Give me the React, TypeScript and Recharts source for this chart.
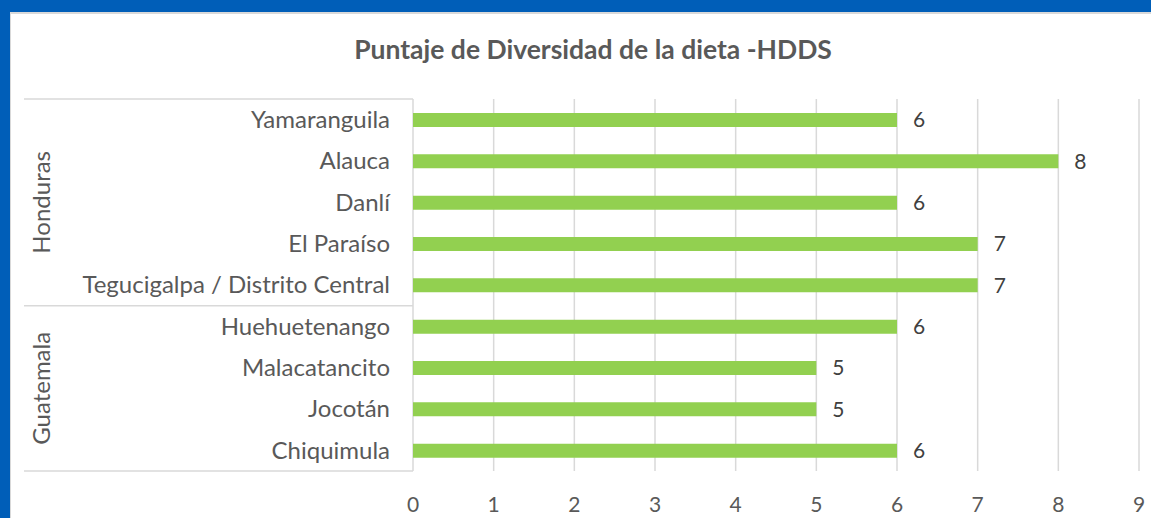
import React from "react";
import { BarChart, Bar, XAxis, YAxis, CartesianGrid, LabelList } from "recharts";

// Dietary diversity score (HDDS) per municipality
const municipios = [
  "Yamaranguila",
  "Alauca",
  "Danlí",
  "El Paraíso",
  "Tegucigalpa / Distrito Central",
  "Huehuetenango",
  "Malacatancito",
  "Jocotán",
  "Chiquimula",
];
const puntajes = [6, 8, 6, 7, 7, 6, 5, 5, 6];
const paises = ["Honduras", "Honduras", "Honduras", "Honduras", "Honduras", "Guatemala", "Guatemala", "Guatemala", "Guatemala"];
const xTicks = [0, 1, 2, 3, 4, 5, 6, 7, 8, 9];

const data = municipios.map((name, i) => ({ name, value: puntajes[i], pais: paises[i] }));

const W = 1151;
const H = 518;
const M = { top: 99, right: 12, bottom: 7, left: 24 };
const X_AXIS_H = 40;
const Y_AXIS_W = 389;
const PLOT_H = H - M.top - M.bottom - X_AXIS_H;
const BAND = PLOT_H / data.length;

const FONT = "Lato, 'Open Sans', sans-serif";
const TEXT = "#595959";
const LINE = "#d9d9d9";

/** Category tick plus the country bracket lines and rotated country label */
function CategoryTick(props: any) {
  const { x, y, payload, index } = props;
  const pais = paises[index];
  const first = index === 0 || paises[index - 1] !== pais;
  const last = index === paises.length - 1 || paises[index + 1] !== pais;
  const groupSize = paises.filter((p) => p === pais).length;
  const axisX = M.left + Y_AXIS_W;
  const groupCenter = y + ((groupSize - 1) / 2) * BAND;
  return (
    <g>
      <text x={x} y={y} dy="0.35em" textAnchor="end" fill={TEXT} fontSize={24} fontFamily={FONT}>
        {payload.value}
      </text>
      {index === 0 && (
        <line x1={M.left} x2={axisX} y1={y - BAND / 2} y2={y - BAND / 2} stroke={LINE} strokeWidth={1.5} />
      )}
      {last && (
        <line x1={M.left} x2={axisX} y1={y + BAND / 2} y2={y + BAND / 2} stroke={LINE} strokeWidth={1.5} />
      )}
      {first && (
        <text
          x={42}
          y={groupCenter}
          dy="0.35em"
          textAnchor="middle"
          fill={TEXT}
          fontSize={24}
          fontFamily={FONT}
          transform={`rotate(-90, 42, ${groupCenter})`}
        >
          {pais}
        </text>
      )}
    </g>
  );
}

export default function App() {
  return (
    <div style={{ position: "absolute", left: 0, top: 0, width: W, height: H, background: "#005EB8", overflow: "hidden" }}>
      <div
        style={{
          position: "absolute",
          left: 10,
          top: 12,
          width: W,
          height: H,
          background: "#fff",
          borderLeft: "1px solid #d9d9d9",
          borderTop: "2px solid #d9d9d9",
        }}
      />
      <div
        style={{
          position: "absolute",
          left: 0,
          top: 33,
          width: 1186,
          textAlign: "center",
          fontFamily: FONT,
          fontWeight: 700,
          fontSize: 26.5,
          color: TEXT,
        }}
      >
        Puntaje de Diversidad de la dieta -HDDS
      </div>
      <div style={{ position: "absolute", left: 0, top: 0 }}>
        <BarChart width={W} height={H} data={data} layout="vertical" margin={M}>
          <CartesianGrid horizontal={false} stroke={LINE} strokeWidth={1.5} />
          <XAxis
            type="number"
            domain={[0, 9]}
            ticks={xTicks}
            height={X_AXIS_H}
            axisLine={false}
            tickLine={false}
            tickSize={0}
            tickMargin={26}
            tick={{ fill: TEXT, fontSize: 21, fontFamily: FONT }}
          />
          <YAxis
            type="category"
            dataKey="name"
            width={Y_AXIS_W}
            axisLine={false}
            tickLine={false}
            tickSize={0}
            tickMargin={23}
            interval={0}
            tick={<CategoryTick />}
          />
          <Bar dataKey="value" fill="#92D050" barSize={14} isAnimationActive={false}>
            <LabelList dataKey="value" position="right" offset={16} fill="#404040" fontSize={21} fontFamily={FONT} />
          </Bar>
        </BarChart>
      </div>
    </div>
  );
}
